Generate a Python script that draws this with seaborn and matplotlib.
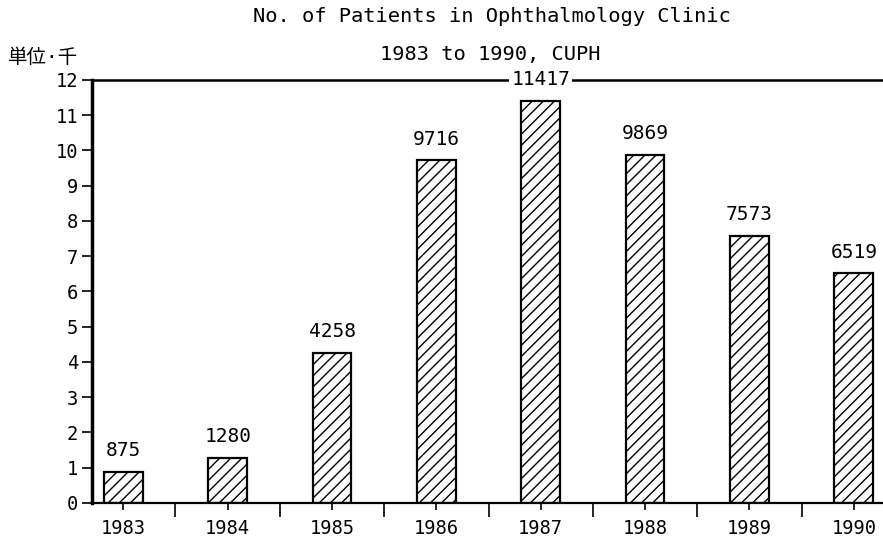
import pandas as pd
import matplotlib
matplotlib.use("Agg")
import matplotlib.pyplot as plt
import seaborn as sns
from matplotlib.ticker import MultipleLocator

# chart data
years = ["1983", "1984", "1985", "1986", "1987", "1988", "1989", "1990"]
patients = [875, 1280, 4258, 9716, 11417, 9869, 7573, 6519]
y_ticks = list(range(0, 13))

title_line1 = "No. of Patients in Ophthalmology Clinic"
title_line2 = "1983 to 1990, CUPH"
unit_label = "単位·千"


def plot_patients(df):
    sns.set_style("white")
    plt.rcParams["font.family"] = ["DejaVu Sans Mono", "Noto Sans CJK JP"]
    plt.rcParams["hatch.linewidth"] = 1.0
    plt.rcParams["text.color"] = "black"
    plt.rcParams["xtick.color"] = "black"
    plt.rcParams["ytick.color"] = "black"

    fig = plt.figure(figsize=(8.83, 5.43), dpi=100)
    ax = fig.add_axes([0.1042, 0.0737, 0.8958, 0.779])

    sns.barplot(data=df, x="year", y="thousands", color="white",
                edgecolor="black", linewidth=1.6, hatch="///", width=0.37,
                saturation=1, ax=ax)

    ax.set_xlim(-0.3, 7.28)
    ax.set_ylim(0, 12)
    ax.set_yticks(y_ticks)
    ax.set_xlabel("")
    ax.set_ylabel("")

    # value labels
    for i, v in enumerate(df["count"]):
        if v == max(df["count"]):
            ax.text(i, 12, str(v), ha="center", va="center", fontsize=14,
                    bbox=dict(facecolor="white", edgecolor="none", pad=1.5),
                    clip_on=False, zorder=5)
        else:
            ax.text(i, v / 1000 + 0.6, str(v), ha="center", va="center",
                    fontsize=14)

    ax.spines["right"].set_visible(False)
    ax.spines["left"].set_linewidth(2.5)
    ax.spines["bottom"].set_linewidth(1.6)
    ax.spines["top"].set_linewidth(1.8)
    for s in ["left", "bottom", "top"]:
        ax.spines[s].set_color("black")

    ax.xaxis.set_minor_locator(MultipleLocator(1, offset=0.5))
    ax.tick_params(axis="x", which="major", direction="out", length=5,
                   width=1.2, labelsize=13.5, bottom=True, pad=6.5)
    ax.tick_params(axis="x", which="minor", direction="out", length=10,
                   width=1.2, bottom=True)
    ax.tick_params(axis="y", direction="out", length=7, width=1.2,
                   labelsize=13.5, left=True, pad=3)

    fig.text(0.557, 0.969, title_line1, ha="center", va="center", fontsize=14.7)
    fig.text(0.555, 0.899, title_line2, ha="center", va="center", fontsize=14.7)
    fig.text(0.009, 0.895, unit_label, ha="left", va="center", fontsize=14)

    fig.savefig("out.png", dpi=100)


def main():
    df = pd.DataFrame({"year": years, "count": patients})
    df["thousands"] = df["count"] / 1000
    plot_patients(df)


if __name__ == "__main__":
    main()
